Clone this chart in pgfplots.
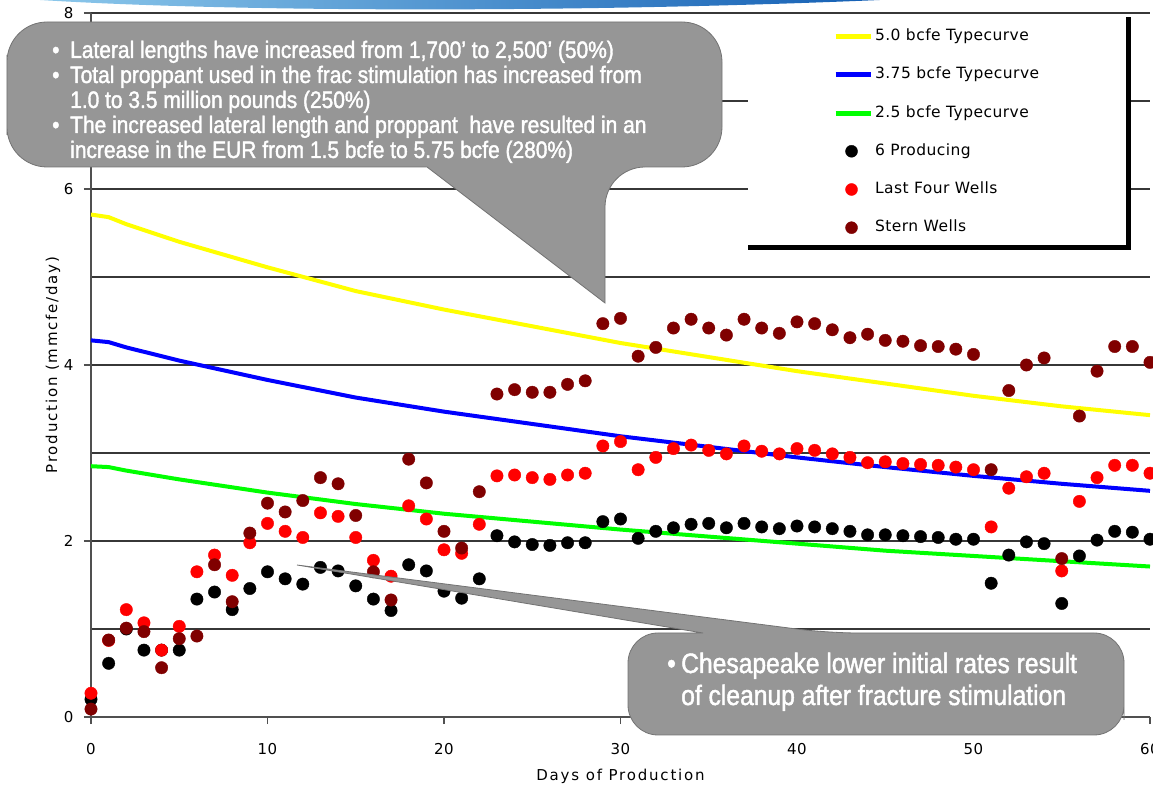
\documentclass[border=0pt]{standalone}
\usepackage{pgfplots}
\pgfplotsset{compat=1.18}
\usepackage{fontspec}
\setmainfont{DejaVu Sans}
\newfontfamily\lblfont[LetterSpace=12]{DejaVu Sans}
\newfontfamily\legfont[LetterSpace=3]{DejaVu Sans}
\newfontfamily\callfont[FakeStretch=0.88, FakeBold=1.6]{Liberation Sans}

\definecolor{tcyellow}{RGB}{255,255,0}
\definecolor{tcblue}{RGB}{0,0,255}
\definecolor{tcgreen}{RGB}{0,255,0}
\definecolor{wellred}{RGB}{255,0,0}
\definecolor{stern}{RGB}{128,0,0}
\definecolor{gridgray}{RGB}{55,55,55}
\definecolor{axisgray}{RGB}{80,80,80}
\definecolor{callgray}{RGB}{150,150,150}

\pgfplotsset{
  lineleg/.style={legend image code/.code={\draw[##1,line width=5pt] (0pt,0pt) -- (35pt,0pt);}},
  dotleg/.style={legend image code/.code={\fill[#1] (16pt,0pt) circle (6pt); \path (0pt,-1pt) (35pt,1pt);}},
  wells/.style={only marks, mark=*, mark size=6.2pt, color=#1, mark options={fill=#1, draw=#1}, dotleg=#1},
}
\tikzset{px/.style={x=1pt, y=-1pt, shift={(-91pt,717pt)}}}

\begin{document}
\begin{tikzpicture}
% page = the reference's 1153x789 frame, axis box from (91,13) to (1150,717)
\useasboundingbox (-91pt,-72pt) rectangle (1062pt,717pt);
\begin{axis}[
  scale only axis, width=1059pt, height=704pt,
  xmin=0, xmax=60, ymin=0, ymax=8,
  clip=false,
  axis x line*=bottom, axis y line*=left,
  axis line style={line width=1.5pt, color=axisgray, -},
  xtick={0,10,...,60}, ytick={0,2,...,8}, minor ytick={1,3,5,7},
  tick align=outside,
  ymajorgrids, yminorgrids,
  major grid style={line width=1.3pt, color=gridgray},
  minor grid style={line width=1.3pt, color=gridgray},
  major tick length=7pt, minor tick length=0pt,
  tick style={line width=1.3pt, color=axisgray},
  tick label style={font=\legfont\fontsize{15}{18}\selectfont, /pgf/number format/assume math mode=true},
  xticklabel style={yshift=-16pt},
  yticklabel style={xshift=-7pt},
  xlabel={Days of Production}, ylabel={Production (mmcfe/day)},
  label style={font=\lblfont\fontsize{15}{18}\selectfont},
  xlabel style={at={(axis description cs:0.5,-0.0838)}, anchor=center},
  ylabel style={at={(axis description cs:-0.0359,0.5)}, anchor=center},
  legend style={at={(0.7007,0.977)}, anchor=north west, draw=none, fill=none,
    inner sep=0pt, outer sep=0pt, row sep=23.2pt, column sep=2pt,
    font=\legfont\fontsize{15.5}{18}\selectfont,
    nodes={inner sep=0pt, text height=11.5pt, text depth=3.5pt}},
  legend cell align=left,
]
% type curves
\addplot[tcyellow, line width=4pt, lineleg] coordinates {
 (0,5.71) (1,5.68) (2,5.60) (5,5.40) (10,5.11) (15,4.84) (20,4.63) (25,4.44)
 (30,4.25) (35,4.09) (40,3.93) (45,3.79) (50,3.65) (55,3.53) (60,3.43)};
\addplot[tcblue, line width=4pt, lineleg] coordinates {
 (0,4.28) (1,4.26) (2,4.20) (5,4.05) (10,3.83) (15,3.63) (20,3.47) (25,3.33)
 (30,3.19) (35,3.07) (40,2.95) (45,2.84) (50,2.74) (55,2.65) (60,2.57)};
\addplot[tcgreen, line width=4pt, lineleg] coordinates {
 (0,2.85) (1,2.84) (2,2.80) (5,2.70) (10,2.55) (15,2.42) (20,2.31) (25,2.22)
 (30,2.13) (35,2.05) (40,1.97) (45,1.89) (50,1.83) (55,1.77) (60,1.71)};
% 6 producing
\addplot[wells=black] coordinates {
 (0,0.20) (1,0.61) (2,1.00) (3,0.76) (4,0.76) (5,0.76) (6,1.34) (7,1.42) (8,1.22) (9,1.46)
 (10,1.65) (11,1.57) (12,1.51) (13,1.70) (14,1.66) (15,1.49) (16,1.34) (17,1.21) (18,1.73) (19,1.66)
 (20,1.43) (21,1.35) (22,1.57) (23,2.06) (24,1.99) (25,1.96) (26,1.95) (27,1.98) (28,1.98) (29,2.22)
 (30,2.25) (31,2.03) (32,2.11) (33,2.15) (34,2.19) (35,2.20) (36,2.15) (37,2.20) (38,2.16) (39,2.14)
 (40,2.17) (41,2.16) (42,2.14) (43,2.11) (44,2.07) (45,2.07) (46,2.06) (47,2.05) (48,2.04) (49,2.02)
 (50,2.02) (51,1.52) (52,1.84) (53,1.99) (54,1.97) (55,1.29) (56,1.83) (57,2.01) (58,2.11) (59,2.10)
 (60,2.02)};
% last four wells
\addplot[wells=wellred] coordinates {
 (0,0.27) (1,0.87) (2,1.22) (3,1.07) (4,0.76) (5,1.03) (6,1.65) (7,1.84) (8,1.61) (9,1.98)
 (10,2.20) (11,2.11) (12,2.04) (13,2.32) (14,2.28) (15,2.04) (16,1.78) (17,1.60) (18,2.40) (19,2.25)
 (20,1.90) (21,1.86) (22,2.19) (23,2.74) (24,2.75) (25,2.72) (26,2.70) (27,2.75) (28,2.77) (29,3.08)
 (30,3.13) (31,2.81) (32,2.95) (33,3.05) (34,3.09) (35,3.03) (36,2.99) (37,3.08) (38,3.02) (39,2.99)
 (40,3.05) (41,3.03) (42,2.99) (43,2.95) (44,2.89) (45,2.90) (46,2.88) (47,2.87) (48,2.86) (49,2.84)
 (50,2.81) (51,2.16) (52,2.60) (53,2.73) (54,2.77) (55,1.66) (56,2.45) (57,2.72) (58,2.86) (59,2.86)
 (60,2.77)};
% stern wells
\addplot[wells=stern] coordinates {
 (0,0.09) (1,0.875) (2,1.01) (3,0.97) (4,0.56) (5,0.89) (6,0.92) (7,1.73) (8,1.31) (9,2.09)
 (10,2.43) (11,2.33) (12,2.46) (13,2.72) (14,2.65) (15,2.29) (16,1.65) (17,1.33) (18,2.93) (19,2.66)
 (20,2.11) (21,1.92) (22,2.56) (23,3.67) (24,3.72) (25,3.69) (26,3.69) (27,3.78) (28,3.82) (29,4.47)
 (30,4.53) (31,4.10) (32,4.20) (33,4.42) (34,4.52) (35,4.42) (36,4.34) (37,4.52) (38,4.42) (39,4.36)
 (40,4.49) (41,4.47) (42,4.40) (43,4.31) (44,4.35) (45,4.28) (46,4.27) (47,4.22) (48,4.21) (49,4.18)
 (50,4.12) (51,2.81) (52,3.71) (53,4.00) (54,4.08) (55,1.80) (56,3.42) (57,3.93) (58,4.21) (59,4.21)
 (60,4.03)};
\legend{5.0 bcfe Typecurve, 3.75 bcfe Typecurve, 2.5 bcfe Typecurve, 6 Producing, Last Four Wells, Stern Wells}
% legend panel behind the entries
\fill[white] (axis cs:37.22,7.985) rectangle (axis cs:58.78,5.36);
\draw[line width=5pt, black] (axis cs:58.78,7.95) -- (axis cs:58.78,5.33) -- (axis cs:37.22,5.33);
\end{axis}

% annotations, in the picture's pixel frame
\begin{scope}[px]
% outside tick marks
\foreach \t in {0,1,...,6} \draw[line width=1.3pt, axisgray] ({91+176.5*\t},717) -- ++(0,7);
\foreach \t in {0,1,...,4} \draw[line width=1.3pt, axisgray] (91,{717-176*\t}) -- ++(-7,0);
\shade[left color={rgb,255:red,140;green,200;blue,235}, right color={rgb,255:red,20;green,95;blue,180}]
  (40,0) .. controls (250,13) and (600,12) .. (880,0) -- cycle;
\filldraw[fill=callgray, draw=black!55, line width=0.8pt]
  (7,95) [rounded corners=40pt] -- (7,22) -- (722,22) -- (722,167) -- (605,167)
  [sharp corners] -- (605,303) -- (427,167) [rounded corners=40pt] -- (7,167) -- cycle;
\begin{scope}[every node/.style={anchor=base west, inner sep=0pt, text=white, font=\callfont\fontsize{23.8}{25}\selectfont}]
\node at (52,58) {•};
\node at (70,58) {Lateral lengths have increased from 1,700’ to 2,500’ (50\%)};
\node at (52,83) {•};
\node at (70,83) {Total proppant used in the frac stimulation has increased from};
\node at (70,108) {1.0 to 3.5 million pounds (250\%)};
\node at (52,133) {•};
\node at (70,133) {The increased lateral length and proppant\ \ have resulted in an};
\node at (70,158) {increase in the EUR from 1.5 bcfe to 5.75 bcfe (280\%)};
\end{scope}
\filldraw[fill=callgray, draw=black!55, line width=0.8pt]
  (1124,690) [rounded corners=30pt] -- (1124,633) -- (828,633)
  [sharp corners] -- (297,565) -- (703,633) [rounded corners=30pt] -- (628,633) -- (628,735) -- (1124,735) -- cycle;
\begin{scope}[every node/.style={anchor=base west, inner sep=0pt, text=white, font=\callfont\fontsize{28}{32}\selectfont}]
\node at (667,673) {•};
\node at (681,673) {Chesapeake lower initial rates result};
\node at (681,705) {of cleanup after fracture stimulation};
\end{scope}
\end{scope}
\end{tikzpicture}
\end{document}
